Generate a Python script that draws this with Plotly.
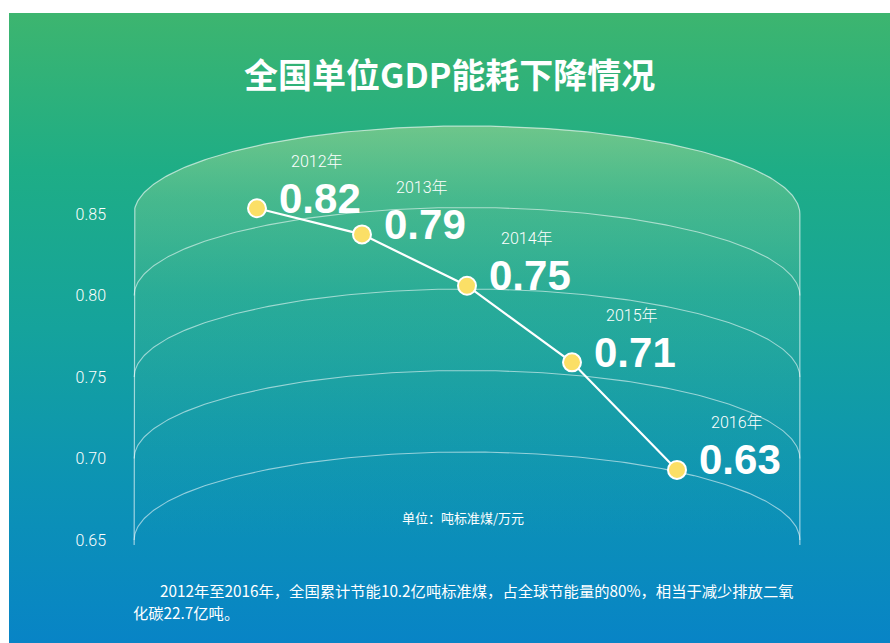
import base64
import numpy as np
import plotly.graph_objects as go

# ---------------- data ----------------
years = [2012, 2013, 2014, 2015, 2016]
year_labels = ["2012年", "2013年", "2014年", "2015年", "2016年"]
energy_values = [0.82, 0.79, 0.75, 0.71, 0.63]          # printed values (吨标准煤/万元)
plot_levels = [0.8535, 0.8375, 0.806, 0.759, 0.693]     # marker heights
y_ticks = [0.65, 0.70, 0.75, 0.80, 0.85]

title_text = "全国单位GDP能耗下降情况"
unit_text = "单位：吨标准煤/万元"
note_line1 = "2012年至2016年，全国累计节能10.2亿吨标准煤，占全球节能量的80%，相当于减少排放二氧"
note_line2 = "化碳22.7亿吨。"

# ---------------- geometry / style ----------------
W, H = 890, 643
ML, MR, MT, MB = 113, 70, 100, 83
PW, PH = W - ML - MR, H - MT - MB
x_range = [2010.6286, 2017.3619]
y_range = [0.63773, 0.91994]

def px(x):
    return (x - ML) / PW

def py(y):
    return (H - MB - y) / PH

CJK = "Noto Sans CJK SC, Noto Sans, sans-serif"
LIGHT = "Roboto, Noto Sans CJK SC, sans-serif"
NUM = "Liberation Sans, Arial, sans-serif"

# cylinder decoration (gridlines drawn as ellipse arcs at each tick value)
cx = float(np.mean(years))
half_w = 3.17
arc_h = 0.054
y_floor = min(y_ticks) - 0.003
t = np.linspace(np.pi, 0, 200)

fig = go.Figure()

top = max(y_ticks)
arc_x = cx + half_w * np.cos(t)
top_y = top + arc_h * np.sin(t)

# lighter interior of the cylinder
fx = np.concatenate([[cx - half_w], arc_x, [cx + half_w, cx - half_w]])
fy = np.concatenate([[y_floor], top_y, [y_floor, y_floor]])
fig.add_trace(go.Scatter(
    x=fx, y=fy, mode="lines", fill="toself", line=dict(width=0),
    fillgradient=dict(type="vertical", colorscale=[
        [0.0, "rgba(180,220,150,0.0)"],
        [0.3, "rgba(180,220,150,0.04)"],
        [0.6, "rgba(180,220,150,0.12)"],
        [0.83, "rgba(180,220,150,0.28)"],
        [1.0, "rgba(180,220,150,0.50)"],
    ]),
    hoverinfo="skip", showlegend=False))

# outline: side walls + top arc
ox = np.concatenate([[cx - half_w], arc_x, [cx + half_w]])
oy = np.concatenate([[y_floor], top_y, [y_floor]])
fig.add_trace(go.Scatter(x=ox, y=oy, mode="lines",
                         line=dict(color="rgba(255,255,255,0.6)", width=1.2),
                         hoverinfo="skip", showlegend=False))
for v in y_ticks:
    if v == top:
        continue
    fig.add_trace(go.Scatter(x=arc_x, y=v + arc_h * np.sin(t), mode="lines",
                             line=dict(color="rgba(255,255,255,0.55)", width=1.1),
                             hoverinfo="skip", showlegend=False))

# data line + markers
fig.add_trace(go.Scatter(
    x=years, y=plot_levels, mode="lines+markers",
    line=dict(color="white", width=2.2),
    marker=dict(size=18, color="#fbdf66", line=dict(color="white", width=2)),
    hoverinfo="skip", showlegend=False))

annotations = []
for yr, lvl, lab, val in zip(years, plot_levels, year_labels, energy_values):
    annotations.append(dict(x=yr, y=lvl, xref="x", yref="y", text=lab,
                            showarrow=False, xanchor="center", yanchor="middle",
                            xshift=60, yshift=47,
                            font=dict(family=LIGHT, size=16, color="white", weight=300)))
    annotations.append(dict(x=yr, y=lvl, xref="x", yref="y", text=f"<b>{val:.2f}</b>",
                            showarrow=False, xanchor="left", yanchor="middle",
                            xshift=20, yshift=10,
                            font=dict(family=NUM, size=42, color="white")))

annotations.append(dict(x=px(449), y=py(73), xref="paper", yref="paper",
                        text=f"<b>{title_text}</b>", showarrow=False,
                        xanchor="center", yanchor="middle",
                        font=dict(family=CJK, size=34, color="white")))
annotations.append(dict(x=px(463), y=py(517), xref="paper", yref="paper",
                        text=unit_text, showarrow=False,
                        xanchor="center", yanchor="middle",
                        font=dict(family=CJK, size=13, color="white")))
annotations.append(dict(x=px(158), y=py(590), xref="paper", yref="paper",
                        text=note_line1, showarrow=False,
                        xanchor="left", yanchor="middle",
                        font=dict(family=CJK, size=15.3, color="white")))
annotations.append(dict(x=px(131), y=py(612), xref="paper", yref="paper",
                        text=note_line2, showarrow=False,
                        xanchor="left", yanchor="middle",
                        font=dict(family=CJK, size=15.3, color="white")))

# gradient background card
svg = ('<svg xmlns="http://www.w3.org/2000/svg" width="881" height="630" '
       'preserveAspectRatio="none" viewBox="0 0 881 630">'
       '<defs><linearGradient id="g" x1="0" y1="0" x2="0" y2="1">'
       '<stop offset="0" stop-color="#3db56f"/>'
       '<stop offset="0.25" stop-color="#1ead86"/>'
       '<stop offset="0.5" stop-color="#15a39c"/>'
       '<stop offset="0.75" stop-color="#0c93b4"/>'
       '<stop offset="1" stop-color="#0884c6"/>'
       '</linearGradient></defs>'
       '<rect x="0" y="0" width="881" height="630" fill="url(#g)"/></svg>')
uri = "data:image/svg+xml;base64," + base64.b64encode(svg.encode()).decode()

fig.update_layout(
    width=W, height=H,
    margin=dict(l=ML, r=MR, t=MT, b=MB),
    paper_bgcolor="white", plot_bgcolor="rgba(0,0,0,0)",
    images=[dict(source=uri, xref="paper", yref="paper",
                 x=px(9), y=py(13), sizex=px(890) - px(9), sizey=py(13) - py(643),
                 xanchor="left", yanchor="top", sizing="stretch", layer="below")],
    xaxis=dict(range=x_range, visible=False, fixedrange=True),
    yaxis=dict(range=y_range, tickvals=y_ticks, tickformat=".2f",
               showgrid=False, zeroline=False, showline=False, ticks="",
               ticklabelstandoff=6,
               tickfont=dict(family="Roboto, Noto Sans, sans-serif", size=16,
                             color="white", weight=300),
               fixedrange=True),
    annotations=annotations,
    showlegend=False,
)

fig.write_html("out.html", config={"displayModeBar": False},
               post_script="document.body.style.margin='0';")
